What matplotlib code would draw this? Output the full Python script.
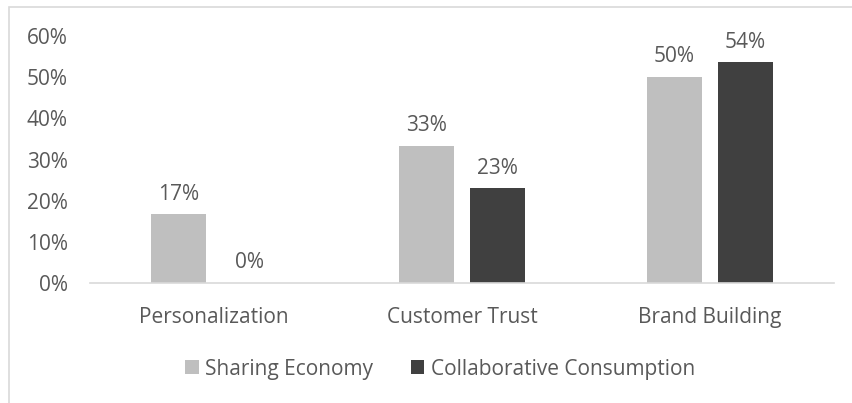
import matplotlib
matplotlib.use("Agg")
import matplotlib.pyplot as plt
from matplotlib.patches import Rectangle
import numpy as np

categories = ["Personalization", "Customer Trust", "Brand Building"]
sharing = [16.7, 33.3, 50.0]
collab = [0.0, 23.0, 53.6]
series_names = ["Sharing Economy", "Collaborative Consumption"]
yticks = [0, 10, 20, 30, 40, 50, 60]

plt.rcParams['font.family'] = ['Open Sans', 'DejaVu Sans']
txt = '#595959'
fs = 15

fig = plt.figure(figsize=(8.52, 4.03), dpi=100)
# light chart-area border (runs off the right and bottom edges)
fig.add_artist(Rectangle((9/852, -0.2), 1.2, 0.2 + 1 - 6.5/403, transform=fig.transFigure,
                         fill=False, edgecolor='#D9D9D9', linewidth=1.2))
ax = fig.add_axes([90/852, 1 - 283/403, (834 - 90)/852, (283 - 36)/403])

x = np.arange(len(categories))
w = 0.222
off = 0.143
b1 = ax.bar(x - off, sharing, w, color='#BFBFBF', label=series_names[0])
b2 = ax.bar(x + off, collab, w, color='#404040', label=series_names[1])

for bars, vals in ((b1, sharing), (b2, collab)):
    for r, v in zip(bars, vals):
        ax.annotate(f"{v:.0f}%", (r.get_x() + r.get_width()/2, v), xytext=(0, 7),
                    textcoords='offset points', ha='center', va='bottom',
                    fontsize=fs, color=txt)

ax.set_xlim(-0.5, 2.5)
ax.set_ylim(0, 60)
ax.set_yticks(yticks)
ax.set_yticklabels([f"{t}%" for t in yticks])
ax.set_xticks(x)
ax.set_xticklabels(categories)
ax.tick_params(axis='y', length=0, pad=16, labelsize=fs, labelcolor=txt)
ax.tick_params(axis='x', length=0, pad=17, labelsize=fs, labelcolor=txt)
for s in ['top', 'right', 'left']:
    ax.spines[s].set_visible(False)
ax.spines['bottom'].set_color('#D9D9D9')
ax.spines['bottom'].set_linewidth(1.2)

fig.legend(loc='center', bbox_to_anchor=(440/852, 1 - 369/403), ncol=2, frameon=False,
           fontsize=fs, labelcolor=txt, handlelength=0.65, handleheight=0.65,
           handletextpad=0.3, columnspacing=1.83)

fig.savefig("out.png", dpi=100)
